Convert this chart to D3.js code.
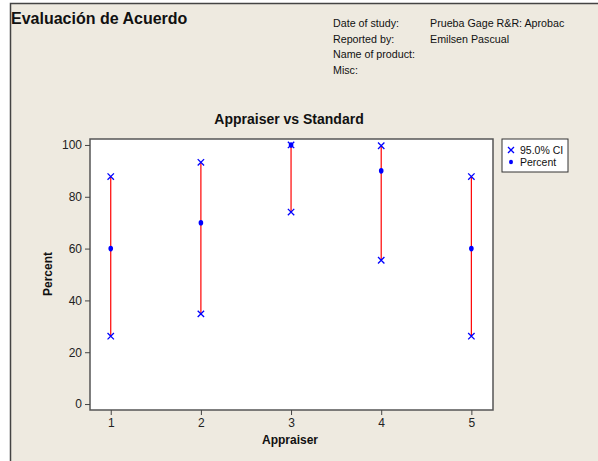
<!DOCTYPE html>
<html><head><meta charset="utf-8">
<script src="https://cdn.jsdelivr.net/npm/d3@7"></script>
<style>
html,body{margin:0;padding:0;background:#fff;}
svg{display:block;}
text{font-family:Tahoma,"Liberation Sans",Arial,sans-serif;}
</style></head>
<body>
<script>
const appraisers = [1, 2, 3, 4, 5];
const percent = [60, 70, 100, 90, 60];
const ciLower = [26.2, 34.8, 74.1, 55.5, 26.2];
const ciUpper = [87.8, 93.3, 100, 99.7, 87.8];
const yTicks = [0, 20, 40, 60, 80, 100];
const headerLabels = ["Date of study:", "Reported by:", "Name of product:", "Misc:"];
const headerValues = ["Prueba Gage R&R: Aprobac", "Emilsen Pascual", "", ""];
const legendItems = ["95.0% CI", "Percent"];

const W = 598, H = 461;
const svg = d3.select("body").append("svg").attr("width", W).attr("height", H);

// frame background
svg.append("rect").attr("x", 10).attr("y", 3).attr("width", W - 10).attr("height", H - 3)
  .attr("fill", "#EEEAE0");
svg.append("path").attr("d", `M10.5,${H} L10.5,3.5 L${W},3.5`).attr("fill", "none")
  .attr("stroke", "#444").attr("stroke-width", 1.5);

svg.append("text").attr("x", 11).attr("y", 24).attr("font-size", 16).attr("font-weight", "bold")
  .attr("fill", "#111").text("Evaluación de Acuerdo");

headerLabels.forEach((t, i) => {
  svg.append("text").attr("x", 333).attr("y", 27 + i * 15.5).attr("font-size", 10.7)
    .attr("fill", "#111").text(t);
  if (headerValues[i]) svg.append("text").attr("x", 430).attr("y", 27 + i * 15.5)
    .attr("font-size", 10.7).attr("fill", "#111").text(headerValues[i]);
});

svg.append("text").attr("x", 289).attr("y", 124).attr("text-anchor", "middle")
  .attr("font-size", 14).attr("font-weight", "bold").attr("fill", "#111").text("Appraiser vs Standard");

const L = 90, R = 493, T = 139, B = 410;
const x = d3.scaleLinear().domain([0.77, 5.24]).range([L, R]);
const y = d3.scaleLinear().domain([-2.3, 102.3]).range([B, T]);

svg.append("rect").attr("x", L).attr("y", T).attr("width", R - L).attr("height", B - T)
  .attr("fill", "#fff").attr("stroke", "#555").attr("stroke-width", 1.5);

const xAxis = svg.append("g").attr("transform", `translate(0,${B})`)
  .call(d3.axisBottom(x).tickValues(appraisers).tickSize(5).tickPadding(3).tickFormat(d3.format("d")));
const yAxis = svg.append("g").attr("transform", `translate(${L},0)`)
  .call(d3.axisLeft(y).tickValues(yTicks).tickSize(5).tickPadding(3));
[xAxis, yAxis].forEach(g => {
  g.select(".domain").remove();
  g.selectAll("line").attr("stroke", "#444");
  g.selectAll("text").attr("font-size", 12).attr("fill", "#222")
    .attr("font-family", 'Tahoma,"Liberation Sans",Arial,sans-serif');
});

svg.append("text").attr("x", 290).attr("y", 444).attr("text-anchor", "middle")
  .attr("font-size", 12).attr("font-weight", "bold").attr("fill", "#111").text("Appraiser");
svg.append("text").attr("transform", "translate(52,274) rotate(-90)").attr("text-anchor", "middle")
  .attr("font-size", 12).attr("font-weight", "bold").attr("fill", "#111").text("Percent");

// CI lines
const g = svg.append("g");
appraisers.forEach((a, i) => {
  g.append("line").attr("x1", x(a)).attr("x2", x(a)).attr("y1", y(ciLower[i])).attr("y2", y(ciUpper[i]))
    .attr("stroke", "#f00").attr("stroke-width", 1.2);
});
const xMark = (cx, cy, s) => `M${cx - s},${cy - s}L${cx + s},${cy + s}M${cx - s},${cy + s}L${cx + s},${cy - s}`;
appraisers.forEach((a, i) => {
  [ciLower[i], ciUpper[i]].forEach(v => {
    g.append("path").attr("d", xMark(x(a), y(v), 3.2)).attr("stroke", "#0000ff")
      .attr("stroke-width", 1.3).attr("fill", "none");
  });
  g.append("ellipse").attr("cx", x(a)).attr("cy", y(percent[i])).attr("rx", 2.3).attr("ry", 2.8)
    .attr("fill", "#0000ff");
});

// legend
svg.append("rect").attr("x", 502).attr("y", 139).attr("width", 66).attr("height", 33)
  .attr("fill", "#fff").attr("stroke", "#333").attr("stroke-width", 1);
svg.append("path").attr("d", xMark(511, 150, 3)).attr("stroke", "#0000ff").attr("stroke-width", 1.3).attr("fill", "none");
svg.append("ellipse").attr("cx", 511).attr("cy", 162).attr("rx", 2).attr("ry", 2.3).attr("fill", "#0000ff");
legendItems.forEach((t, i) => {
  svg.append("text").attr("x", 520).attr("y", 154 + i * 12).attr("font-size", 10.5)
    .attr("fill", "#111").text(t);
});
</script>
</body></html>
